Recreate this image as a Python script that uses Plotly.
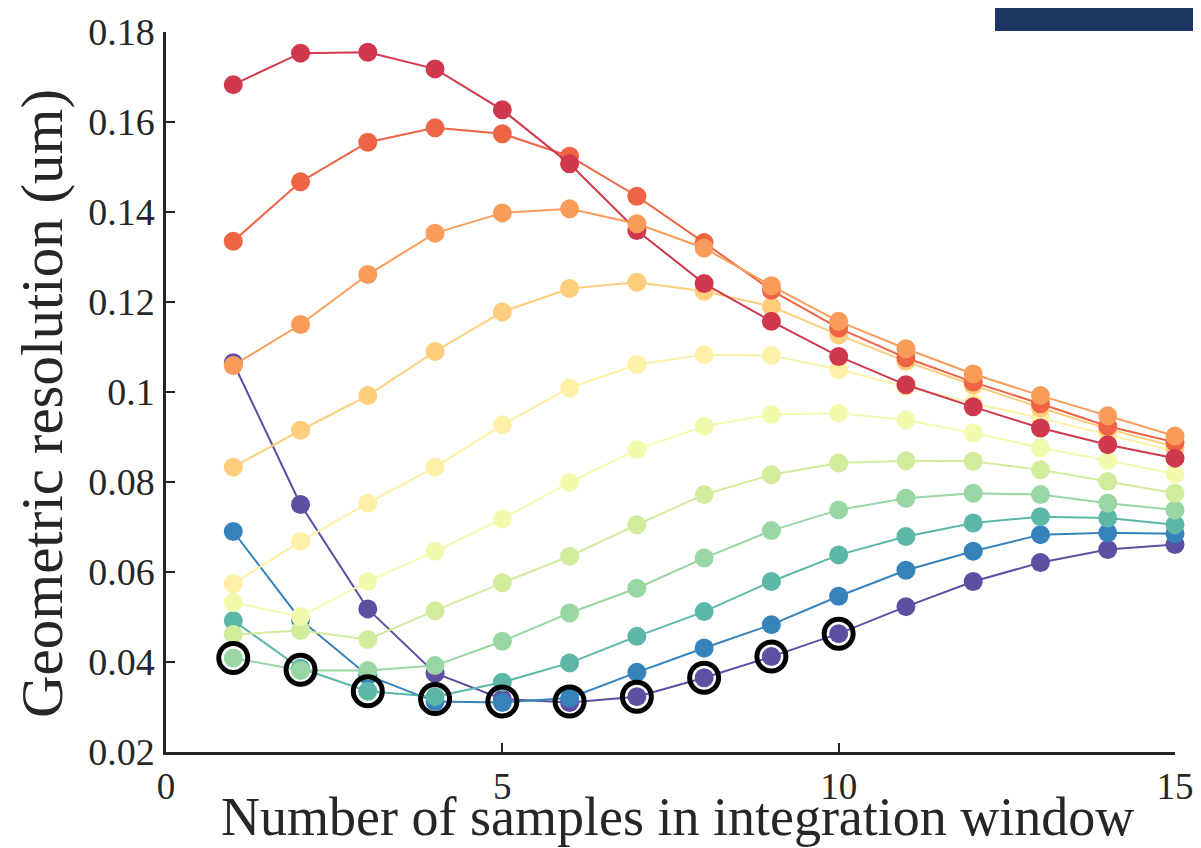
import plotly.graph_objects as go

x_samples = list(range(1, 16))

# Series ordered from red (top of colormap) to purple
s01_red = [0.1683, 0.1753, 0.1755, 0.1718, 0.1627, 0.1507, 0.1359, 0.1241, 0.1157, 0.1079, 0.1016, 0.0967, 0.0920, 0.0883, 0.0853]
s02_orange_red = [0.1335, 0.1467, 0.1555, 0.1587, 0.1574, 0.1524, 0.1435, 0.1332, 0.1226, 0.1142, 0.1076, 0.1022, 0.0974, 0.0924, 0.0888]
s03_orange = [0.1059, 0.1150, 0.1261, 0.1353, 0.1398, 0.1407, 0.1374, 0.1320, 0.1236, 0.1157, 0.1096, 0.1040, 0.0992, 0.0947, 0.0902]
s04_light_orange = [0.0833, 0.0915, 0.0992, 0.1090, 0.1178, 0.1230, 0.1244, 0.1224, 0.1190, 0.1127, 0.1068, 0.1015, 0.0965, 0.0918, 0.0878]
s05_pale_yellow = [0.0574, 0.0668, 0.0753, 0.0833, 0.0927, 0.1009, 0.1061, 0.1083, 0.1081, 0.1050, 0.1012, 0.0975, 0.0942, 0.0905, 0.0868]
s06_lime_yellow = [0.0532, 0.0501, 0.0579, 0.0646, 0.0718, 0.0799, 0.0872, 0.0924, 0.0950, 0.0953, 0.0938, 0.0909, 0.0876, 0.0848, 0.0818]
s07_lime = [0.0461, 0.0470, 0.0450, 0.0514, 0.0576, 0.0635, 0.0705, 0.0772, 0.0816, 0.0842, 0.0847, 0.0846, 0.0827, 0.0801, 0.0775]
s08_light_green = [0.0409, 0.0381, 0.0381, 0.0392, 0.0446, 0.0509, 0.0564, 0.0631, 0.0692, 0.0738, 0.0764, 0.0775, 0.0772, 0.0753, 0.0738]
s09_teal = [0.0492, 0.0386, 0.0335, 0.0323, 0.0355, 0.0398, 0.0457, 0.0512, 0.0579, 0.0638, 0.0679, 0.0709, 0.0723, 0.0720, 0.0705]
s10_blue = [0.0690, 0.0494, 0.0370, 0.0312, 0.0310, 0.0320, 0.0377, 0.0431, 0.0483, 0.0546, 0.0604, 0.0646, 0.0683, 0.0687, 0.0685]
s11_purple = [0.1065, 0.0750, 0.0518, 0.0375, 0.0318, 0.0310, 0.0323, 0.0365, 0.0412, 0.0463, 0.0523, 0.0579, 0.0621, 0.0650, 0.0661]

series = [s01_red, s02_orange_red, s03_orange, s04_light_orange, s05_pale_yellow,
          s06_lime_yellow, s07_lime, s08_light_green, s09_teal, s10_blue, s11_purple]

# Spectral colormap sampled at k/11, k = 1..11
colors = ["#d0384e", "#ee6445", "#fa9c59", "#fece7c", "#fef1a7", "#f4faad",
          "#d1ec9c", "#98d6a4", "#5db7a9", "#3683bb", "#5e4fa2"]

# Highlighted minima (black rings)
min_x = [1, 2, 3, 4, 5, 6, 7, 8, 9, 10]
min_y = [0.0409, 0.0383, 0.0335, 0.0318, 0.0312, 0.0312, 0.0323, 0.0365, 0.0412, 0.0463]

x_ticks = [0, 5, 10, 15]
y_ticks = [0.02, 0.04, 0.06, 0.08, 0.10, 0.12, 0.14, 0.16, 0.18]
y_tick_text = ["0.02", "0.04", "0.06", "0.08", "0.1", "0.12", "0.14", "0.16", "0.18"]

draw_order = [10, 9, 8, 7, 6, 5, 4, 3, 1, 0, 2]

FONT = "Liberation Serif, DejaVu Serif, serif"
TXT = "#262626"

fig = go.Figure()
for i in draw_order:
    fig.add_trace(go.Scatter(
        x=x_samples, y=series[i], mode="lines+markers",
        line=dict(color=colors[i], width=2),
        marker=dict(color=colors[i], size=19, line=dict(width=0)),
        cliponaxis=False, showlegend=False, hoverinfo="skip"))

fig.add_trace(go.Scatter(
    x=min_x, y=min_y, mode="markers",
    marker=dict(symbol="circle-open", size=29, color="black", line=dict(width=5, color="black")),
    cliponaxis=False, showlegend=False, hoverinfo="skip"))

# page body has an 8px margin: figure is 8px smaller and margins shifted to compensate
fig.update_layout(
    width=1193, height=840,
    margin=dict(l=158, r=26, t=24, b=96, autoexpand=False),
    paper_bgcolor="white", plot_bgcolor="white",
    font=dict(family=FONT, color=TXT),
    xaxis=dict(range=[0, 15], tickvals=x_ticks, ticks="inside", ticklen=9, tickwidth=2,
               tickcolor=TXT, showline=True, linecolor=TXT, linewidth=2.5, showgrid=False,
               zeroline=False, tickfont=dict(size=37, family=FONT, color=TXT),
               ticklabelstandoff=0),
    yaxis=dict(range=[0.02, 0.18], tickvals=y_ticks, ticktext=y_tick_text, ticks="inside",
               ticklen=9, tickwidth=2, tickcolor=TXT, showline=True, linecolor=TXT,
               linewidth=2.5, showgrid=False, zeroline=False,
               tickfont=dict(size=38, family=FONT, color=TXT), ticklabelstandoff=1),
    shapes=[dict(type="rect", xref="paper", yref="paper", x0=0.8216, x1=1.03, y0=1.0014, y1=1.06,
                 fillcolor="#1c3664", line=dict(width=0), layer="above")],
    annotations=[
        dict(text="Number of samples in integration window", xref="paper", yref="paper",
             x=0.5065, y=-0.0903, xanchor="center", yanchor="middle", showarrow=False,
             font=dict(size=54, family=FONT, color=TXT)),
        dict(text="Geometric resolution (um)", xref="paper", yref="paper",
             x=-0.1229, y=0.4847, xanchor="center", yanchor="middle", showarrow=False,
             textangle=-90, font=dict(size=59, family=FONT, color=TXT)),
    ],
)

fig.write_html("out.html")
